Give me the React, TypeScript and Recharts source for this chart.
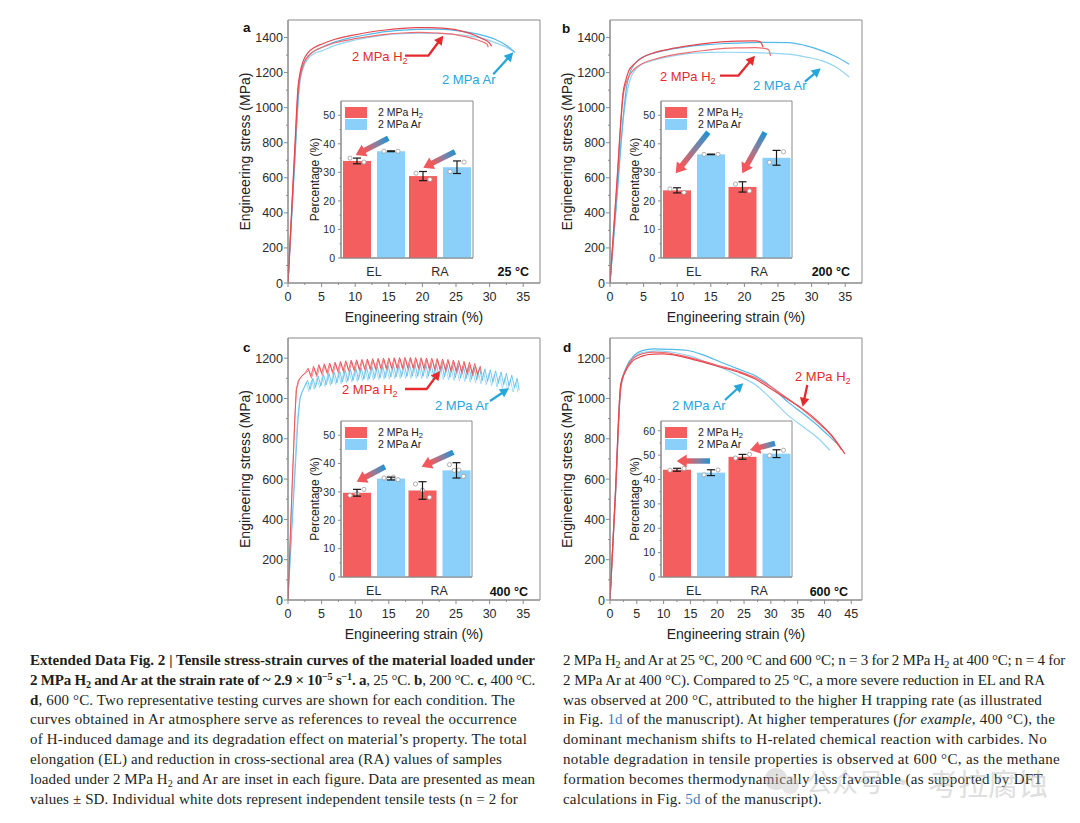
import React, { useLayoutEffect, useRef, useState } from "react";
import {
  LineChart,
  Line,
  XAxis,
  YAxis,
  ReferenceArea,
  BarChart,
  Bar,
  ErrorBar,
  CartesianGrid,
  Legend,
} from "recharts";

type Pt = [number, number];

const RED = "#e8464e";
const RED2 = "#ef6d72";
const BLUE = "#52b9e9";
const BLUE2 = "#92d4f3";
const BAR_RED = "#f45e5e";
const BAR_BLUE = "#8ad0fa";
const ANN_RED = "#e52a2e";
const ANN_BLUE = "#27a6dc";
const FRAME = "#8a8a8a";
const INK = "#2b2b2b";
const FONT = "'Liberation Sans', Arial, sans-serif";
const SERIF = "'Liberation Serif', 'Times New Roman', serif";

// ---- tick labels ----
const strainTicks35 = [0, 2.5, 5, 7.5, 10, 12.5, 15, 17.5, 20, 22.5, 25, 27.5, 30, 32.5, 35];
const strainTicks45 = [0, 2.5, 5, 7.5, 10, 12.5, 15, 17.5, 20, 22.5, 25, 27.5, 30, 32.5, 35, 37.5, 40, 42.5, 45];
const stressTicks1400 = [0, 100, 200, 300, 400, 500, 600, 700, 800, 900, 1000, 1100, 1200, 1300, 1400];
const stressTicks1200 = [0, 100, 200, 300, 400, 500, 600, 700, 800, 900, 1000, 1100, 1200];
const pctTicks50 = [0, 5, 10, 15, 20, 25, 30, 35, 40, 45, 50];
const pctTicks60 = [0, 5, 10, 15, 20, 25, 30, 35, 40, 45, 50, 55, 60];
const insetCats = ["EL", "RA"];

// ---- a: 25 °C ----
const aH2One: Pt[] = [[0, 0], [0.5, 380], [1.0, 760], [1.5, 1120], [1.8, 1200], [2.2, 1260], [3, 1314], [4, 1345], [5, 1362], [7, 1390], [9.5, 1412], [12, 1430], [14.5, 1443], [17, 1452], [19, 1457], [21, 1456], [24.4, 1448], [26, 1435], [27.9, 1412], [29, 1392], [29.9, 1372], [30.3, 1350]];
const aH2Two: Pt[] = [[0, 0], [0.5, 370], [1.0, 740], [1.55, 1110], [1.9, 1190], [2.4, 1255], [3.2, 1300], [4, 1325], [5, 1343], [7, 1370], [9.5, 1390], [12, 1405], [14.5, 1418], [17, 1426], [19.5, 1429], [22, 1426], [24.4, 1419], [26, 1408], [27.9, 1390], [29, 1375], [29.6, 1362], [29.8, 1345]];
const aArOne: Pt[] = [[0, 0], [0.5, 350], [1.0, 700], [1.5, 1050], [1.75, 1170], [2.2, 1240], [3, 1295], [4, 1325], [5, 1343], [7, 1375], [9.5, 1400], [12, 1418], [14.5, 1434], [17, 1442], [19.5, 1447], [22, 1448], [24.5, 1442], [26.9, 1429], [29, 1412], [30.8, 1390], [32.5, 1355], [33.8, 1314]];
const aArTwo: Pt[] = [[0, 0], [0.5, 340], [1.0, 680], [1.5, 1020], [1.8, 1150], [2.3, 1230], [3, 1280], [4, 1310], [5, 1324], [7, 1355], [9.5, 1381], [12, 1400], [14.5, 1415], [17, 1422], [19.5, 1425], [22, 1424], [24.5, 1419], [26.9, 1410], [29, 1395], [30.8, 1371], [32.5, 1345], [33.6, 1320]];

// ---- b: 200 °C ----
const bH2One: Pt[] = [[0, 0], [1, 560], [2.0, 1100], [2.3, 1150], [2.8, 1210], [3.6, 1248], [5, 1290], [6.6, 1314], [9, 1335], [11.6, 1352], [14, 1365], [16.6, 1375], [19, 1380], [21.6, 1381], [22.4, 1375], [22.6, 1362], [22.8, 1345]];
const bH2Two: Pt[] = [[0, 0], [1, 540], [2.0, 1080], [2.4, 1140], [2.9, 1185], [3.6, 1219], [5, 1255], [6.6, 1276], [9, 1298], [11.6, 1314], [14, 1326], [16.6, 1337], [19, 1341], [21.6, 1343], [23, 1338], [23.6, 1330], [23.9, 1295]];
const bArOne: Pt[] = [[0, 0], [1, 480], [2.0, 960], [2.4, 1100], [2.9, 1190], [4.1, 1267], [6, 1305], [8, 1325], [11, 1345], [14, 1358], [17, 1366], [20, 1370], [23, 1372], [26.6, 1371], [29, 1355], [31.6, 1324], [33.5, 1293], [35.6, 1248]];
const bArTwo: Pt[] = [[0, 0], [1, 470], [2.0, 940], [2.5, 1080], [3.0, 1160], [4.1, 1229], [6, 1265], [8, 1285], [11.6, 1308], [15, 1315], [18, 1316], [21.6, 1314], [24, 1311], [26.6, 1305], [29, 1290], [31.6, 1267], [33.5, 1235], [35.6, 1175]];

// ---- c: 400 °C (serrated flow) ----
const cH2One: Pt[] = [[0, 0], [0.6, 560], [1.2, 1040], [1.5, 1085], [2, 1110], [2.5, 1125], [3.0, 1150], [3.4, 1110], [3.8, 1160], [4.2, 1118], [4.6, 1168], [5.0, 1125], [5.4, 1172], [5.8, 1128], [6.2, 1176], [6.6, 1132], [7.0, 1180], [7.4, 1135], [7.8, 1184], [8.2, 1138], [8.6, 1187], [9.0, 1140], [9.4, 1190], [9.8, 1142], [10.2, 1192], [10.6, 1144], [11.0, 1194], [11.4, 1146], [11.8, 1196], [12.2, 1147], [12.6, 1198], [13.0, 1148], [13.4, 1199], [13.8, 1150], [14.2, 1200], [14.6, 1150], [15.0, 1201], [15.4, 1151], [15.8, 1202], [16.2, 1152], [16.6, 1203], [17.0, 1152], [17.4, 1204], [17.8, 1153], [18.2, 1204], [18.6, 1152], [19.0, 1203], [19.4, 1152], [19.8, 1202], [20.2, 1150], [20.6, 1201], [21.0, 1149], [21.4, 1200], [21.8, 1147], [22.2, 1198], [22.6, 1145], [23.0, 1196], [23.4, 1143], [23.8, 1194], [24.2, 1140], [24.6, 1191], [25.0, 1137], [25.4, 1188], [25.8, 1133], [26.2, 1184], [26.6, 1129], [27.0, 1180], [27.4, 1124], [27.8, 1174], [28.2, 1118], [28.6, 1160], [28.8, 1120]];
const cH2Two: Pt[] = [[0, 0], [0.5, 450], [1.0, 900], [1.3, 1050], [1.7, 1095], [2.2, 1115], [2.7, 1128], [3.1, 1140], [3.5, 1100], [3.9, 1150], [4.3, 1108], [4.7, 1158], [5.1, 1114], [5.5, 1163], [5.9, 1118], [6.3, 1168], [6.7, 1122], [7.1, 1172], [7.5, 1126], [7.9, 1176], [8.3, 1129], [8.7, 1179], [9.1, 1132], [9.5, 1182], [9.9, 1134], [10.3, 1185], [10.7, 1136], [11.1, 1187], [11.5, 1138], [11.9, 1189], [12.3, 1140], [12.7, 1190], [13.1, 1141], [13.5, 1192], [13.9, 1142], [14.3, 1193], [14.7, 1143], [15.1, 1194], [15.5, 1144], [15.9, 1195], [16.3, 1144], [16.7, 1195], [17.1, 1145], [17.5, 1196], [17.9, 1145], [18.3, 1196], [18.7, 1144], [19.1, 1195], [19.5, 1143], [19.9, 1194], [20.3, 1142], [20.7, 1193], [21.1, 1140], [21.5, 1191], [21.9, 1138], [22.3, 1189], [22.7, 1136], [23.1, 1187], [23.5, 1133], [23.9, 1184], [24.3, 1130], [24.7, 1181], [25.1, 1126], [25.5, 1177], [25.9, 1122], [26.3, 1173], [26.7, 1117], [27.1, 1168], [27.5, 1112], [27.9, 1160], [28.3, 1105]];
const cArOne: Pt[] = [[0, 0], [0.8, 480], [1.5, 900], [1.8, 1000], [2.1, 1030], [2.5, 1060], [2.9, 1090], [3.3, 1045], [3.7, 1100], [4.1, 1055], [4.5, 1110], [4.9, 1062], [5.3, 1118], [5.7, 1068], [6.1, 1124], [6.5, 1073], [6.9, 1130], [7.3, 1078], [7.7, 1135], [8.1, 1082], [8.5, 1140], [8.9, 1086], [9.3, 1144], [9.7, 1090], [10.1, 1148], [10.5, 1093], [10.9, 1152], [11.3, 1096], [11.7, 1155], [12.1, 1098], [12.5, 1158], [12.9, 1100], [13.3, 1160], [13.7, 1102], [14.1, 1162], [14.5, 1104], [14.9, 1164], [15.3, 1106], [15.7, 1166], [16.1, 1107], [16.5, 1167], [16.9, 1108], [17.3, 1168], [17.7, 1109], [18.1, 1169], [18.5, 1110], [18.9, 1170], [19.3, 1110], [19.7, 1170], [20.1, 1110], [20.5, 1170], [20.9, 1110], [21.3, 1169], [21.7, 1109], [22.1, 1168], [22.5, 1108], [22.9, 1167], [23.3, 1107], [23.7, 1166], [24.1, 1105], [24.5, 1164], [24.9, 1103], [25.3, 1162], [25.7, 1101], [26.1, 1160], [26.5, 1098], [26.9, 1157], [27.3, 1095], [27.7, 1154], [28.1, 1092], [28.5, 1151], [28.9, 1088], [29.3, 1147], [29.7, 1084], [30.1, 1142], [30.5, 1080], [30.9, 1137], [31.3, 1075], [31.7, 1131], [32.1, 1069], [32.5, 1124], [32.9, 1062], [33.3, 1115], [33.7, 1053], [34.1, 1100], [34.4, 1040]];
const cArTwo: Pt[] = [[0, 0], [0.7, 460], [1.3, 850], [1.7, 990], [2.0, 1030], [2.4, 1055], [2.7, 1080], [3.1, 1035], [3.5, 1092], [3.9, 1045], [4.3, 1102], [4.7, 1053], [5.1, 1110], [5.5, 1059], [5.9, 1116], [6.3, 1064], [6.7, 1122], [7.1, 1069], [7.5, 1127], [7.9, 1073], [8.3, 1132], [8.7, 1077], [9.1, 1136], [9.5, 1081], [9.9, 1140], [10.3, 1084], [10.7, 1143], [11.1, 1087], [11.5, 1146], [11.9, 1089], [12.3, 1149], [12.7, 1091], [13.1, 1151], [13.5, 1093], [13.9, 1153], [14.3, 1095], [14.7, 1155], [15.1, 1096], [15.5, 1156], [15.9, 1097], [16.3, 1157], [16.7, 1098], [17.1, 1158], [17.5, 1099], [17.9, 1159], [18.3, 1099], [18.7, 1159], [19.1, 1099], [19.5, 1159], [19.9, 1099], [20.3, 1158], [20.7, 1098], [21.1, 1157], [21.5, 1097], [21.9, 1156], [22.3, 1096], [22.7, 1155], [23.1, 1094], [23.5, 1153], [23.9, 1092], [24.3, 1151], [24.7, 1090], [25.1, 1148], [25.5, 1087], [25.9, 1145], [26.3, 1084], [26.7, 1142], [27.1, 1081], [27.5, 1139], [27.9, 1077], [28.3, 1135], [28.7, 1073], [29.1, 1130], [29.5, 1068], [29.9, 1125], [30.3, 1063], [30.7, 1119], [31.1, 1057], [31.5, 1112], [31.9, 1050], [32.3, 1104], [32.7, 1042], [33.1, 1094], [33.5, 1032], [33.9, 1080], [34.2, 1030]];

// ---- d: 600 °C ----
const dH2One: Pt[] = [[0, 0], [1, 530], [2, 1070], [2.8, 1130], [4, 1180], [6, 1210], [8, 1220], [10, 1221], [13, 1210], [16, 1190], [20.7, 1155], [24, 1130], [27, 1098], [30, 1048], [33, 998], [35.7, 952], [38, 905], [39.4, 870], [41.5, 812], [43.8, 725]];
const dH2Two: Pt[] = [[0, 0], [1, 510], [2, 1050], [2.9, 1140], [4.2, 1195], [6, 1222], [8, 1230], [10, 1228], [13, 1215], [16, 1195], [20, 1165], [24, 1135], [27, 1105], [30, 1058], [33, 1002], [36, 942], [39, 874], [41, 825], [43.2, 745]];
const dArOne: Pt[] = [[0, 0], [1, 520], [2, 1065], [2.9, 1147], [4.5, 1213], [6, 1237], [8.2, 1246], [11, 1244], [14.5, 1238], [17.5, 1215], [20.7, 1180], [22.6, 1160], [25, 1135], [27, 1114], [30, 1060], [33.2, 982], [36, 925], [39.4, 850], [42.5, 772], [42.8, 765]];
const dArTwo: Pt[] = [[0, 0], [1, 500], [2, 1040], [3, 1150], [4.5, 1205], [6, 1228], [9, 1236], [12, 1228], [15, 1210], [18, 1180], [21, 1150], [23.8, 1114], [27, 1070], [30, 1000], [33.2, 916], [36, 860], [38.5, 810], [41, 743]];

// ---- insets: EL / RA (%) ----
const aH2Mean = [34.0, 28.7];
const aH2Sd = [1.0, 1.6];
const aH2Dots = [[35.0, 33.6], [29.7, 27.5]];
const aArMean = [37.4, 31.8];
const aArSd = [0.15, 2.2];
const aArDots = [[37.4, 37.4], [30.3, 33.6]];

const bH2Mean = [23.7, 24.9];
const bH2Sd = [0.9, 1.8];
const bH2Dots = [[24.2, 23.0], [25.9, 23.5]];
const bArMean = [36.3, 35.1];
const bArSd = [0.1, 2.6];
const bArDots = [[36.3, 36.3], [33.5, 37.2]];

const cH2Mean = [29.7, 30.5];
const cH2Sd = [1.2, 3.1];
const cH2Dots = [[28.8, 29.4, 30.9], [32.8, 30.6, 28.1]];
const cArMean = [34.7, 37.6];
const cArSd = [0.5, 2.7];
const cArDots = [[34.9, 34.9, 35.2, 34.3], [39.6, 37.6, 37.7, 35.5]];

const dH2Mean = [44.0, 49.3];
const dH2Sd = [0.6, 1.0];
const dH2Dots = [[43.8, 44.5], [48.8, 50.3]];
const dArMean = [42.8, 50.6];
const dArSd = [1.2, 1.6];
const dArDots = [[41.9, 43.9], [49.8, 52.0]];

const toPts = (arr: Pt[]) => arr.map(([x, y]) => ({ x, y }));

function insetRows(h2: number[], h2Sd: number[], h2Dots: number[][], ar: number[], arSd: number[], arDots: number[][]) {
  return insetCats.map((cat, i) => ({
    cat,
    h2: h2[i],
    h2Sd: h2Sd[i],
    h2Dots: h2Dots[i],
    ar: ar[i],
    arSd: arSd[i],
    arDots: arDots[i],
  }));
}

function AxisTick(props: any) {
  const { x, y, payload, side, step, fs = 12.5, major = 4, minor = 2, gap = 5 } = props;
  const v = payload.value;
  const isMajor = Math.abs(v / step - Math.round(v / step)) < 1e-6;
  const len = isMajor ? major : minor;
  if (side === "bottom") {
    return (
      <g>
        <line x1={x} x2={x} y1={y} y2={y + len} stroke={FRAME} />
        {isMajor && (
          <text x={x} y={y + fs * 1.45} textAnchor="middle" fontSize={fs} fill={INK} fontFamily={FONT}>
            {v}
          </text>
        )}
      </g>
    );
  }
  return (
    <g>
      <line x1={x - len} x2={x} y1={y} y2={y} stroke={FRAME} />
      {isMajor && (
        <text x={x - gap} y={y} dy="0.36em" textAnchor="end" fontSize={fs} fill={INK} fontFamily={FONT}>
          {v}
        </text>
      )}
    </g>
  );
}

function CatTick(props: any) {
  const { x, y, payload } = props;
  return (
    <text x={x} y={y + 18} textAnchor="middle" fontSize={12.5} fill={INK} fontFamily={FONT}>
      {payload.value}
    </text>
  );
}

type Curve = { pts: Pt[]; color: string };

function StressPanel({ px, py, pw, ph, xMax, yMax, xTicks, yTicks, curves, jagged }: {
  px: number; py: number; pw: number; ph: number; xMax: number; yMax: number;
  xTicks: number[]; yTicks: number[]; curves: Curve[]; jagged?: boolean;
}) {
  return (
    <div style={{ position: "absolute", left: px - 58, top: py - 10 }}>
      <LineChart width={pw + 68} height={ph + 62} margin={{ top: 10, right: 10, bottom: 22, left: 8 }}>
        <XAxis
          type="number"
          dataKey="x"
          domain={[0, xMax]}
          ticks={xTicks}
          interval={0}
          tickSize={0}
          tickMargin={0}
          tickLine={false}
          axisLine={{ stroke: FRAME }}
          height={30}
          allowDataOverflow
          tick={<AxisTick side="bottom" step={5} />}
          label={{ value: "Engineering strain (%)", position: "bottom", offset: -1, fontSize: 14, fill: "#222", fontFamily: FONT }}
        />
        <YAxis
          type="number"
          dataKey="y"
          domain={[0, yMax]}
          ticks={yTicks}
          interval={0}
          tickSize={0}
          tickMargin={0}
          tickLine={false}
          axisLine={{ stroke: FRAME }}
          width={50}
          allowDataOverflow
          tick={<AxisTick side="left" step={200} />}
          label={{
            value: "Engineering stress (MPa)",
            angle: -90,
            position: "insideLeft",
            offset: 7,
            fontSize: 14,
            fill: "#222",
            fontFamily: FONT,
            style: { textAnchor: "middle" },
          }}
        />
        <ReferenceArea x1={0} x2={xMax} y1={0} y2={yMax} fill="none" stroke={FRAME} />
        {curves.map((c, i) => (
          <Line
            key={i}
            data={toPts(c.pts)}
            dataKey="y"
            type={jagged ? "linear" : "monotone"}
            stroke={c.color}
            strokeWidth={jagged ? 0.8 : 1.2}
            dot={false}
            isAnimationActive={false}
          />
        ))}
      </LineChart>
    </div>
  );
}

function DotBar(props: any) {
  const { x, y, width, height, fill, v, dots } = props;
  const base = y + height;
  const k = height / v;
  const n = dots.length;
  const cx = x + width / 2;
  return (
    <g>
      <rect x={x} y={y} width={width} height={height} fill={fill} />
      {dots.map((d: number, i: number) => (
        <circle
          key={i}
          cx={cx + (n === 1 ? 0 : -7 + (14 * i) / (n - 1))}
          cy={base - d * k}
          r={2.1}
          fill="#fff"
          stroke="#9a9a9a"
          strokeWidth={0.8}
        />
      ))}
    </g>
  );
}

function InsetLegend() {
  const row = (color: string, label: React.ReactNode) => (
    <div style={{ display: "flex", alignItems: "center", height: 11.5 }}>
      <span style={{ display: "inline-block", width: 22, height: 11, background: color, marginRight: 11 }} />
      <span>{label}</span>
    </div>
  );
  return (
    <div style={{ fontFamily: FONT, fontSize: 10.5, color: "#222", lineHeight: "11px" }}>
      {row(BAR_RED, <>2 MPa H<sub style={{ fontSize: 7.5, verticalAlign: "-2px", lineHeight: 0 }}>2</sub></>)}
      {row(BAR_BLUE, "2 MPa Ar")}
    </div>
  );
}

function InsetBars({ px, py, pw, ph, yMax, ticks, rows }: {
  px: number; py: number; pw: number; ph: number; yMax: number; ticks: number[]; rows: any[];
}) {
  return (
    <div style={{ position: "absolute", left: px - 36, top: py - 4 }}>
      <BarChart
        width={pw + 40}
        height={ph + 34}
        data={rows}
        margin={{ top: 4, right: 4, left: 0, bottom: 10 }}
        barCategoryGap={2}
        barGap={6}
      >
        <CartesianGrid fill="#fff" horizontal={false} vertical={false} />
        <XAxis dataKey="cat" height={20} tickSize={0} tickMargin={0} tickLine={false} axisLine={{ stroke: FRAME }} tick={<CatTick />} interval={0} />
        <YAxis
          type="number"
          domain={[0, yMax]}
          ticks={ticks}
          interval={0}
          width={36}
          tickSize={0}
          tickMargin={0}
          tickLine={false}
          axisLine={{ stroke: FRAME }}
          allowDataOverflow
          tick={<AxisTick side="left" step={10} fs={10.5} major={3} minor={1.5} gap={6} />}
          label={{
            value: "Percentage (%)",
            angle: -90,
            position: "insideLeft",
            offset: 10,
            fontSize: 12,
            fill: "#222",
            fontFamily: FONT,
            style: { textAnchor: "middle" },
          }}
        />
        <ReferenceArea y1={0} y2={yMax} fill="none" stroke={FRAME} />
        <Legend
          layout="vertical"
          align="center"
          verticalAlign="middle"
          wrapperStyle={{ left: 40, top: 10, width: 110, height: 24 }}
          content={() => <InsetLegend />}
        />
        <Bar
          dataKey="h2"
          fill={BAR_RED}
          isAnimationActive={false}
          shape={(p: any) => <DotBar {...p} v={p.payload.h2} dots={p.payload.h2Dots} />}
        >
          <ErrorBar dataKey="h2Sd" width={4} stroke="#1a1a1a" strokeWidth={1.2} />
        </Bar>
        <Bar
          dataKey="ar"
          fill={BAR_BLUE}
          isAnimationActive={false}
          shape={(p: any) => <DotBar {...p} v={p.payload.ar} dots={p.payload.arDots} />}
        >
          <ErrorBar dataKey="arSd" width={4} stroke="#1a1a1a" strokeWidth={1.2} />
        </Bar>
      </BarChart>
    </div>
  );
}

function Pointer({ pts, color, w = 2.3, hl = 9, hw = 4.8 }: { pts: Pt[]; color: string; w?: number; hl?: number; hw?: number }) {
  const [x1, y1] = pts[pts.length - 2];
  const [x2, y2] = pts[pts.length - 1];
  const d = Math.hypot(x2 - x1, y2 - y1);
  const ux = (x2 - x1) / d;
  const uy = (y2 - y1) / d;
  const bx = x2 - ux * hl;
  const by = y2 - uy * hl;
  const line = [...pts.slice(0, -1), [bx + ux * 2, by + uy * 2]];
  return (
    <g>
      <polyline points={line.map((p) => p.join(",")).join(" ")} fill="none" stroke={color} strokeWidth={w} strokeLinejoin="round" />
      <polygon points={`${x2},${y2} ${bx - uy * hw},${by + ux * hw} ${bx + uy * hw},${by - ux * hw}`} fill={color} />
    </g>
  );
}

function FadeArrow({ id, from, to }: { id: string; from: Pt; to: Pt }) {
  const [x1, y1] = from;
  const [x2, y2] = to;
  const d = Math.hypot(x2 - x1, y2 - y1);
  const ux = (x2 - x1) / d;
  const uy = (y2 - y1) / d;
  const hl = 10;
  const hw = 6.5;
  const bx = x2 - ux * hl;
  const by = y2 - uy * hl;
  return (
    <g>
      <defs>
        <linearGradient id={id} gradientUnits="userSpaceOnUse" x1={x1} y1={y1} x2={bx} y2={by}>
          <stop offset="0%" stopColor="#1f93d3" />
          <stop offset="50%" stopColor="#8a7f9e" />
          <stop offset="100%" stopColor="#f0585c" />
        </linearGradient>
      </defs>
      <line x1={x1} y1={y1} x2={bx + ux} y2={by + uy} stroke={`url(#${id})`} strokeWidth={5.5} />
      <polygon points={`${x2},${y2} ${bx - uy * hw},${by + ux * hw} ${bx + uy * hw},${by - ux * hw}`} fill="#f0585c" />
    </g>
  );
}

function Tag({ x, y, color, h2 }: { x: number; y: number; color: string; h2?: boolean }) {
  return (
    <text x={x} y={y} fill={color} fontSize={13} fontFamily={FONT}>
      {"2 MPa "}
      {h2 ? (
        <>
          H<tspan fontSize={9} dy={3}>2</tspan>
        </>
      ) : (
        "Ar"
      )}
    </text>
  );
}

function Overlay() {
  const bold = { fontFamily: FONT, fontWeight: 700, fill: "#111" } as const;
  return (
    <svg width={1080} height={823} style={{ position: "absolute", left: 0, top: 0, pointerEvents: "none" }}>
      {/* panel letters + temperatures */}
      <text x={243} y={32} fontSize={13.5} {...bold}>a</text>
      <text x={562} y={33} fontSize={13.5} {...bold}>b</text>
      <text x={243} y={352} fontSize={13.5} {...bold}>c</text>
      <text x={563} y={352} fontSize={13.5} {...bold}>d</text>
      <text x={529} y={276} fontSize={12.5} textAnchor="end" {...bold}>25 °C</text>
      <text x={850} y={276} fontSize={12.5} textAnchor="end" {...bold}>200 °C</text>
      <text x={528} y={596} fontSize={12.5} textAnchor="end" {...bold}>400 °C</text>
      <text x={848} y={596} fontSize={12.5} textAnchor="end" {...bold}>600 °C</text>

      {/* a */}
      <Tag x={352} y={61} color={ANN_RED} h2 />
      <Pointer pts={[[405, 55.7], [428.3, 55.7], [443.3, 35.7]]} color={ANN_RED} />
      <Tag x={442} y={84} color={ANN_BLUE} />
      <Pointer pts={[[493.3, 74.3], [513.3, 52.3]]} color={ANN_BLUE} />
      <FadeArrow id="fa1" from={[388.3, 138.3]} to={[355.7, 155]} />
      <FadeArrow id="fa2" from={[455, 151.7]} to={[423.3, 167.7]} />

      {/* b */}
      <Tag x={660} y={81} color={ANN_RED} h2 />
      <Pointer pts={[[720, 75.7], [738.3, 75.7], [755, 55.7]]} color={ANN_RED} />
      <Tag x={753} y={90} color={ANN_BLUE} />
      <Pointer pts={[[805, 81.7], [820.7, 68.3]]} color={ANN_BLUE} />
      <FadeArrow id="fb1" from={[708.3, 132.3]} to={[675.7, 173.3]} />
      <FadeArrow id="fb2" from={[765, 132.3]} to={[742.3, 173.3]} />

      {/* c */}
      <Tag x={342} y={394} color={ANN_RED} h2 />
      <Pointer pts={[[405, 389], [426.7, 389], [440, 371]]} color={ANN_RED} />
      <Tag x={435} y={410} color={ANN_BLUE} />
      <Pointer pts={[[490, 401], [509, 388.3]]} color={ANN_BLUE} />
      <FadeArrow id="fc1" from={[385, 466.7]} to={[356.7, 481.7]} />
      <FadeArrow id="fc2" from={[453.3, 452.3]} to={[421.7, 466.7]} />

      {/* d */}
      <Tag x={795} y={381} color={ANN_RED} h2 />
      <Pointer pts={[[807.3, 385], [802.7, 406.7]]} color={ANN_RED} />
      <Tag x={672} y={410} color={ANN_BLUE} />
      <Pointer pts={[[725, 400], [743.3, 383.3]]} color={ANN_BLUE} />
      <FadeArrow id="fd1" from={[710, 461]} to={[676.7, 461]} />
      <FadeArrow id="fd2" from={[775, 443.3]} to={[750, 450]} />
    </svg>
  );
}

const sub = { fontSize: "0.68em", verticalAlign: "-0.25em", lineHeight: 0 } as const;
const sup = { fontSize: "0.68em", verticalAlign: "0.45em", lineHeight: 0 } as const;
const link = { color: "#3a7dbf" } as const;

// each caption line with the x where it ends in the figure
const captionLeft: [React.ReactNode, number][] = [
  [<b>Extended Data Fig. 2 | Tensile stress-strain curves of the material loaded under</b>, 535],
  [
    <>
      <b>
        2 MPa H<span style={sub}>2</span> and Ar at the strain rate of ~ 2.9 × 10<span style={sup}>−5</span> s<span style={sup}>−1</span>.
      </b>{" "}
      <b>a</b>, 25 °C. <b>b</b>, 200 °C. <b>c</b>, 400 °C.
    </>,
    535,
  ],
  [
    <>
      <b>d</b>, 600 °C. Two representative testing curves are shown for each condition. The
    </>,
    515,
  ],
  ["curves obtained in Ar atmosphere serve as references to reveal the occurrence", 517],
  ["of H-induced damage and its degradation effect on material’s property. The total", 527],
  ["elongation (EL) and reduction in cross-sectional area (RA) values of samples", 502],
  [
    <>
      loaded under 2 MPa H<span style={sub}>2</span> and Ar are inset in each figure. Data are presented as mean
    </>,
    535,
  ],
  ["values ± SD. Individual white dots represent independent tensile tests (n = 2 for", 518],
];

const captionRight: [React.ReactNode, number][] = [
  [
    <>
      2 MPa H<span style={sub}>2</span> and Ar at 25 °C, 200 °C and 600 °C; n = 3 for 2 MPa H<span style={sub}>2</span> at 400 °C; n = 4 for
    </>,
    1065,
  ],
  ["2 MPa Ar at 400 °C). Compared to 25 °C, a more severe reduction in EL and RA", 1045],
  ["was observed at 200 °C, attributed to the higher H trapping rate (as illustrated", 1042],
  [
    <>
      in Fig. <span style={link}>1d</span> of the manuscript). At higher temperatures (<i>for example</i>, 400 °C), the
    </>,
    1055,
  ],
  ["dominant mechanism shifts to H-related chemical reaction with carbides. No", 1047],
  ["notable degradation in tensile properties is observed at 600 °C, as the methane", 1060],
  ["formation becomes thermodynamically less favorable (as supported by DFT", 1043],
  [
    <>
      calculations in Fig. <span style={link}>5d</span> of the manuscript).
    </>,
    822,
  ],
];

function FitLine({ left, top, right, children }: { left: number; top: number; right: number; children: React.ReactNode }) {
  const ref = useRef<HTMLSpanElement>(null);
  const [ls, setLs] = useState(0);
  useLayoutEffect(() => {
    const el = ref.current;
    if (!el) return;
    const w = el.getBoundingClientRect().width;
    const n = (el.textContent || "").length;
    if (n > 0) setLs((right - left - w) / n);
  }, [left, right]);
  return (
    <div
      style={{
        position: "absolute",
        left,
        top,
        height: 20,
        lineHeight: "20px",
        whiteSpace: "nowrap",
        fontFamily: SERIF,
        fontSize: 15,
        color: "#231f20",
      }}
    >
      <span ref={ref} style={{ letterSpacing: ls }}>
        {children}
      </span>
    </div>
  );
}

function Caption({ left, lines }: { left: number; lines: [React.ReactNode, number][] }) {
  return (
    <>
      {lines.map(([ln, end], i) => (
        <FitLine key={i} left={left} top={650 + i * 19.8} right={end}>
          {ln}
        </FitLine>
      ))}
    </>
  );
}

export default function App() {
  return (
    <div style={{ position: "absolute", left: 0, top: 0, width: 1080, height: 823, background: "#fff", overflow: "hidden" }}>
      <StressPanel
        px={288} py={20} pw={252} ph={263} xMax={37.5} yMax={1500}
        xTicks={strainTicks35} yTicks={stressTicks1400}
        curves={[{ pts: aArTwo, color: BLUE2 }, { pts: aArOne, color: BLUE }, { pts: aH2Two, color: RED2 }, { pts: aH2One, color: RED }]}
      />
      <StressPanel
        px={610} py={20} pw={252} ph={263} xMax={37.5} yMax={1500}
        xTicks={strainTicks35} yTicks={stressTicks1400}
        curves={[{ pts: bArTwo, color: BLUE2 }, { pts: bArOne, color: BLUE }, { pts: bH2Two, color: RED2 }, { pts: bH2One, color: RED }]}
      />
      <StressPanel
        px={288} py={338} pw={252} ph={262} xMax={37.5} yMax={1300}
        xTicks={strainTicks35} yTicks={stressTicks1200} jagged
        curves={[{ pts: cArTwo, color: BLUE2 }, { pts: cArOne, color: BLUE }, { pts: cH2Two, color: RED2 }, { pts: cH2One, color: RED }]}
      />
      <StressPanel
        px={610} py={338} pw={252} ph={262} xMax={47} yMax={1300}
        xTicks={strainTicks45} yTicks={stressTicks1200}
        curves={[{ pts: dArTwo, color: BLUE2 }, { pts: dArOne, color: BLUE }, { pts: dH2Two, color: RED2 }, { pts: dH2One, color: RED }]}
      />

      <InsetBars px={341} py={101} pw={132} ph={157} yMax={55} ticks={pctTicks50}
        rows={insetRows(aH2Mean, aH2Sd, aH2Dots, aArMean, aArSd, aArDots)} />
      <InsetBars px={661} py={101} pw={131} ph={157} yMax={55} ticks={pctTicks50}
        rows={insetRows(bH2Mean, bH2Sd, bH2Dots, bArMean, bArSd, bArDots)} />
      <InsetBars px={341} py={421} pw={131} ph={156} yMax={55} ticks={pctTicks50}
        rows={insetRows(cH2Mean, cH2Sd, cH2Dots, cArMean, cArSd, cArDots)} />
      <InsetBars px={661} py={421} pw={131} ph={156} yMax={64} ticks={pctTicks60}
        rows={insetRows(dH2Mean, dH2Sd, dH2Dots, dArMean, dArSd, dArDots)} />

      <Overlay />

      <Caption left={30} lines={captionLeft} />
      <Caption left={563} lines={captionRight} />

      <svg width={1080} height={823} style={{ position: "absolute", left: 0, top: 0, pointerEvents: "none", opacity: 0.4 }}>
        <circle cx={776} cy={779} r={11} fill="#b5b5b5" />
        <circle cx={790} cy={785} r={9} fill="#c4c4c4" />
        <text x={806} y={792} fontSize={26} fill="#b0b0b0" fontFamily="'Noto Sans CJK SC', sans-serif">公众号 · </text>
        <text x={928} y={795} fontSize={30} fill="#b0b0b0" fontFamily="'Noto Sans CJK SC', sans-serif">考拉腐蚀</text>
      </svg>
    </div>
  );
}
